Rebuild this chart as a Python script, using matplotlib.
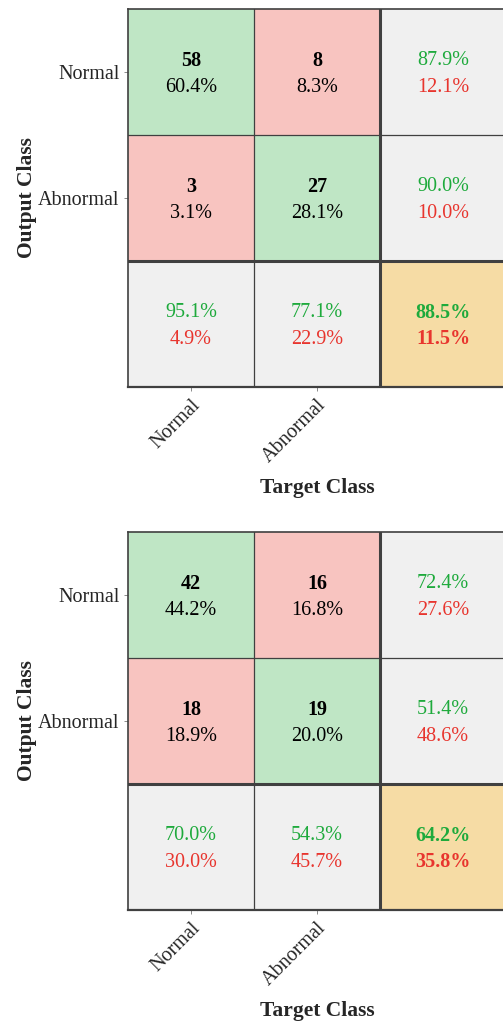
import numpy as np
import matplotlib.pyplot as plt
from matplotlib.colors import ListedColormap

plt.rcParams['font.family'] = ['Liberation Serif', 'DejaVu Serif']

CLASSES = ['Normal', 'Abnormal']
CM_TOP = [[58, 8], [3, 27]]
CM_BOTTOM = [[42, 16], [18, 19]]

GREEN_BG = '#bfe6c5'
RED_BG = '#f8c4c0'
GRAY_BG = '#f0f0f0'
GOLD_BG = '#f6dca5'
GREEN_TXT = '#1eaa3c'
RED_TXT = '#e8352e'
EDGE = '#404040'
FS = 14.5


def draw_confusion(ax, cm):
    cm = np.array(cm)
    n = cm.shape[0]
    total = cm.sum()
    # 0 = correct, 1 = wrong, 2 = summary, 3 = overall
    kind = np.full((n + 1, n + 1), 2)
    for i in range(n):
        for j in range(n):
            kind[i, j] = 0 if i == j else 1
    kind[n, n] = 3
    cmap = ListedColormap([GREEN_BG, RED_BG, GRAY_BG, GOLD_BG])
    ax.imshow(kind, cmap=cmap, vmin=-0.5, vmax=3.5, aspect='auto')

    up, dn = -0.09, 0.12   # two-line offsets inside a cell
    for i in range(n):
        for j in range(n):
            ax.text(j, i + up, f'{cm[i, j]}', ha='center', va='center',
                    fontsize=FS, fontweight='bold', color='black')
            ax.text(j, i + dn, f'{100 * cm[i, j] / total:.1f}%', ha='center',
                    va='center', fontsize=FS, color='black')
    # row summaries (precision)
    for i in range(n):
        p = 100 * cm[i, i] / cm[i].sum()
        ax.text(n, i + up, f'{p:.1f}%', ha='center', va='center',
                fontsize=FS, color=GREEN_TXT)
        ax.text(n, i + dn, f'{100 - p:.1f}%', ha='center', va='center',
                fontsize=FS, color=RED_TXT)
    # column summaries (recall)
    for j in range(n):
        r = 100 * cm[j, j] / cm[:, j].sum()
        ax.text(j, n + up, f'{r:.1f}%', ha='center', va='center',
                fontsize=FS, color=GREEN_TXT)
        ax.text(j, n + dn, f'{100 - r:.1f}%', ha='center', va='center',
                fontsize=FS, color=RED_TXT)
    acc = 100 * np.trace(cm) / total
    ax.text(n, n + up, f'{acc:.1f}%', ha='center', va='center',
            fontsize=FS, fontweight='bold', color=GREEN_TXT)
    ax.text(n, n + dn, f'{100 - acc:.1f}%', ha='center', va='center',
            fontsize=FS, fontweight='bold', color=RED_TXT)

    # cell grid
    for k in range(1, n):
        ax.axvline(k - 0.5, color=EDGE, lw=0.9)
        ax.axhline(k - 0.5, color=EDGE, lw=0.9)
    ax.axvline(n - 0.5, color=EDGE, lw=2.2)
    ax.axhline(n - 0.5, color=EDGE, lw=2.2)
    for s in ax.spines.values():
        s.set_color(EDGE)
        s.set_linewidth(1.2)
    ax.spines['bottom'].set_linewidth(1.6)

    ax.set_xticks(range(n))
    ax.set_yticks(range(n))
    ax.set_xticklabels(CLASSES, rotation=45, ha='right', va='top',
                       rotation_mode='anchor', fontsize=FS, color='#262626')
    ax.set_yticklabels(CLASSES, fontsize=FS, color='#262626')
    ax.tick_params(length=3, width=0.6, color='#777777', pad=3)
    ax.set_xlabel('Target Class', fontsize=15.5, fontweight='bold',
                  color='#262626', labelpad=8)
    ax.set_ylabel('Output Class', fontsize=15.5, fontweight='bold',
                  color='#262626', labelpad=1)


fig = plt.figure(figsize=(5.03, 10.21), dpi=100)
W, H = 503, 1021
ax1 = fig.add_axes([128 / W, 1 - 387 / H, 378 / W, 378 / H])
ax2 = fig.add_axes([128 / W, 1 - 910 / H, 378 / W, 378 / H])
draw_confusion(ax1, CM_TOP)
draw_confusion(ax2, CM_BOTTOM)
fig.savefig('out.png', dpi=100)
